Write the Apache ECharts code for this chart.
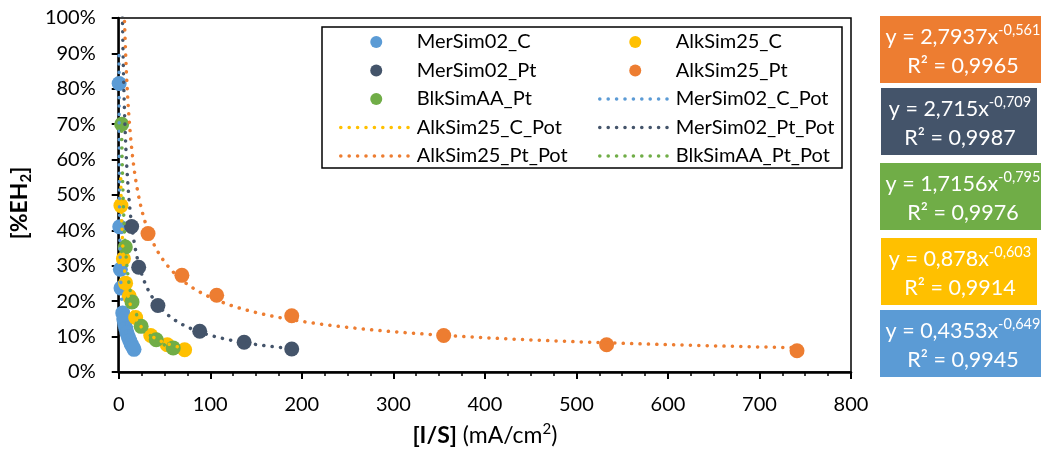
<!DOCTYPE html>
<html>
<head>
<meta charset="utf-8">
<script src="https://cdn.jsdelivr.net/npm/echarts@6/dist/echarts.min.js"></script>
<style>
  html, body { margin: 0; padding: 0; background: #fff; }
  #chart { width: 1041px; height: 453px; }
</style>
</head>
<body>
<div id="chart"></div>
<script>
const FONT = 'Lato, "Open Sans", sans-serif';

// series, in the order Excel draws them
const seriesNames = ['MerSim02_C', 'AlkSim25_C', 'MerSim02_Pt', 'AlkSim25_Pt', 'BlkSimAA_Pt'];
const seriesColors = ['#5B9BD5', '#FFC000', '#44546A', '#ED7D31', '#70AD47'];

// measured points, x = I/S (mA/cm2), y = %EH2
const merSim02C_x = [0.45, 1.1, 1.8, 2.5, 4.4, 5.5, 6.5, 7.7, 9, 10.5, 12, 13.5, 15, 16.7];
const merSim02C_y = [81.5, 41, 29, 23.7, 16.7, 15, 13.6, 12.3, 11, 9.9, 8.9, 8, 7.2, 6.4];

const alkSim25C_x = [2.4, 5.1, 7.5, 11.5, 18.5, 35, 53, 72];
const alkSim25C_y = [47, 32, 25.1, 21.4, 15.4, 10.3, 7.7, 6.3];

const merSim02Pt_x = [14.1, 21.8, 42.8, 88.5, 137, 189];
const merSim02Pt_y = [41.1, 29.6, 18.8, 11.5, 8.4, 6.5];

const alkSim25Pt_x = [32, 69, 107, 189, 355, 533, 741];
const alkSim25Pt_y = [39.1, 27.3, 21.7, 15.9, 10.3, 7.7, 6.0];

const blkSimAAPt_x = [3.2, 7.2, 14.5, 24.5, 41, 59.5];
const blkSimAAPt_y = [70, 35.3, 19.8, 12.9, 9.1, 6.8];

const pointsX = [merSim02C_x, alkSim25C_x, merSim02Pt_x, alkSim25Pt_x, blkSimAAPt_x];
const pointsY = [merSim02C_y, alkSim25C_y, merSim02Pt_y, alkSim25Pt_y, blkSimAAPt_y];

// power trendlines y = a * x^b, as printed in the labels
const trendA = [0.4353, 0.878, 2.715, 2.7937, 1.7156];
const trendB = [-0.649, -0.603, -0.709, -0.561, -0.795];
const trendR2 = [0.9945, 0.9914, 0.9987, 0.9965, 0.9976];
const trendStart = [0.33, 2.2, 3, 5, 3.2];

// equation boxes, top to bottom
const boxOrder = [3, 2, 4, 1, 0];
const boxLeft = [880, 881, 880, 881, 880];
const boxTop = [16, 88, 163, 238, 310];
const boxWidth = [164, 156, 164, 156, 164];
const boxHeight = 67;

const legendCol1 = ['MerSim02_C', 'MerSim02_Pt', 'BlkSimAA_Pt', 'AlkSim25_C_Pot', 'AlkSim25_Pt_Pot'];
const legendCol2 = ['AlkSim25_C', 'AlkSim25_Pt', 'MerSim02_C_Pot', 'MerSim02_Pt_Pot', 'BlkSimAA_Pt_Pot'];

function fmt(v) {
  return String(v).replace('.', ',');
}

function trendPoints(i) {
  const x0 = trendStart[i];
  const xs = pointsX[i];
  const x1 = xs[xs.length - 1];
  const n = 200;
  const pts = [];
  for (let k = 0; k <= n; k++) {
    const x = x0 * Math.pow(x1 / x0, k / n);
    pts.push([x, 100 * trendA[i] * Math.pow(x, trendB[i])]);
  }
  return pts;
}

const series = [];
seriesNames.forEach((name, i) => {
  series.push({
    name: name,
    type: 'scatter',
    symbol: 'circle',
    symbolSize: 15,
    z: 2,
    itemStyle: { color: seriesColors[i], opacity: 1 },
    data: pointsX[i].map((x, k) => [x, pointsY[i][k]])
  });
});
seriesNames.forEach((name, i) => {
  series.push({
    name: name + '_Pot',
    type: 'line',
    symbol: 'none',
    z: 3,
    silent: true,
    clip: true,
    lineStyle: { color: seriesColors[i], width: 3.5, type: [0.1, 8.3], cap: 'round' },
    itemStyle: { color: seriesColors[i] },
    data: trendPoints(i)
  });
});

// trendline entries get no dot in the legend, only the dotted line
function legendItems(names) {
  return names.map(n => n.endsWith('_Pot')
    ? { name: n, itemStyle: { opacity: 0, color: 'rgba(0,0,0,0)' } }
    : { name: n });
}

const legendBase = {
  orient: 'vertical',
  top: 32,
  padding: 0,
  itemWidth: 71,
  itemHeight: 12,
  itemGap: 8.5,
  selectedMode: false,
  textStyle: { fontFamily: FONT, fontSize: 20, lineHeight: 20, color: '#000' },
  lineStyle: { width: 3.5, type: [0.1, 8.3], cap: 'round' }
};

const graphics = [{
  type: 'rect',
  z: 0,
  shape: { x: 322, y: 27, width: 520, height: 141 },
  style: { fill: '#fff', stroke: '#000', lineWidth: 1.5 }
}];

boxOrder.forEach((si, k) => {
  graphics.push({
    type: 'group',
    left: boxLeft[k],
    top: boxTop[k],
    children: [{
      type: 'rect',
      shape: { x: 0, y: 0, width: boxWidth[k], height: boxHeight },
      style: { fill: seriesColors[si] }
    }, {
      type: 'text',
      x: boxWidth[k] / 2 + 1,
      y: boxHeight / 2 + 2,
      style: {
        text: '{m|y = ' + fmt(trendA[si]) + 'x}{sup|' + fmt(trendB[si]) + '}\n{m|R² = ' + fmt(trendR2[si]) + '}',
        align: 'center',
        verticalAlign: 'middle',
        fill: '#fff',
        rich: {
          m: { fontFamily: FONT, fontSize: 21.5, lineHeight: 29, fill: '#fff' },
          sup: { fontFamily: FONT, fontSize: 14.5, lineHeight: 16, verticalAlign: 'top', fill: '#fff' }
        }
      }
    }]
  });
});

const chart = echarts.init(document.getElementById('chart'), null, { renderer: 'canvas' });

chart.setOption({
  animation: false,
  backgroundColor: '#fff',
  textStyle: { fontFamily: FONT },
  grid: {
    left: 115, right: 190, top: 18, bottom: 81,
    show: true, borderColor: '#000', borderWidth: 1.5
  },
  legend: [
    Object.assign({}, legendBase, { left: 339, data: legendItems(legendCol1) }),
    Object.assign({}, legendBase, { left: 598, data: legendItems(legendCol2) })
  ],
  xAxis: {
    type: 'value',
    min: 0, max: 800, interval: 100,
    name: '{b|[I/S]} {n|(mA/cm}{sup|2}{n|)}',
    nameLocation: 'middle',
    nameGap: 50,
    nameTextStyle: {
      color: '#000', fontFamily: FONT, fontSize: 23,
      rich: {
        b: { fontFamily: FONT, fontSize: 23, fontWeight: 'bold', lineHeight: 28, color: '#000' },
        n: { fontFamily: FONT, fontSize: 23, lineHeight: 28, color: '#000' },
        sup: { fontFamily: FONT, fontSize: 15, lineHeight: 17, verticalAlign: 'top', color: '#000' }
      }
    },
    axisLine: { lineStyle: { color: '#000', width: 2.5 } },
    axisTick: { length: 7, lineStyle: { color: '#000', width: 2 } },
    minorTick: { show: true, splitNumber: 4, length: 4, lineStyle: { color: '#000', width: 1.5 } },
    splitLine: { show: false },
    axisLabel: { color: '#000', fontFamily: FONT, fontSize: 20, margin: 23 }
  },
  yAxis: {
    type: 'value',
    min: 0, max: 100, interval: 10,
    name: '{b|[%EH}{sub|2}{b|]}',
    nameLocation: 'middle',
    nameGap: 79,
    nameTextStyle: {
      color: '#000', fontFamily: FONT, fontSize: 23,
      padding: [0, 16, 0, 0],
      rich: {
        b: { fontFamily: FONT, fontSize: 23, fontWeight: 'bold', lineHeight: 29, color: '#000' },
        sub: { fontFamily: FONT, fontSize: 15, fontWeight: 'bold', lineHeight: 17, verticalAlign: 'bottom', color: '#000' }
      }
    },
    axisLine: { show: true, lineStyle: { color: '#000', width: 2.5 } },
    axisTick: { show: true, length: 7, lineStyle: { color: '#000', width: 2 } },
    splitLine: { show: false },
    axisLabel: { color: '#000', fontFamily: FONT, fontSize: 20, margin: 23, formatter: '{value}%' }
  },
  graphic: graphics,
  series: series
});
</script>
</body>
</html>
